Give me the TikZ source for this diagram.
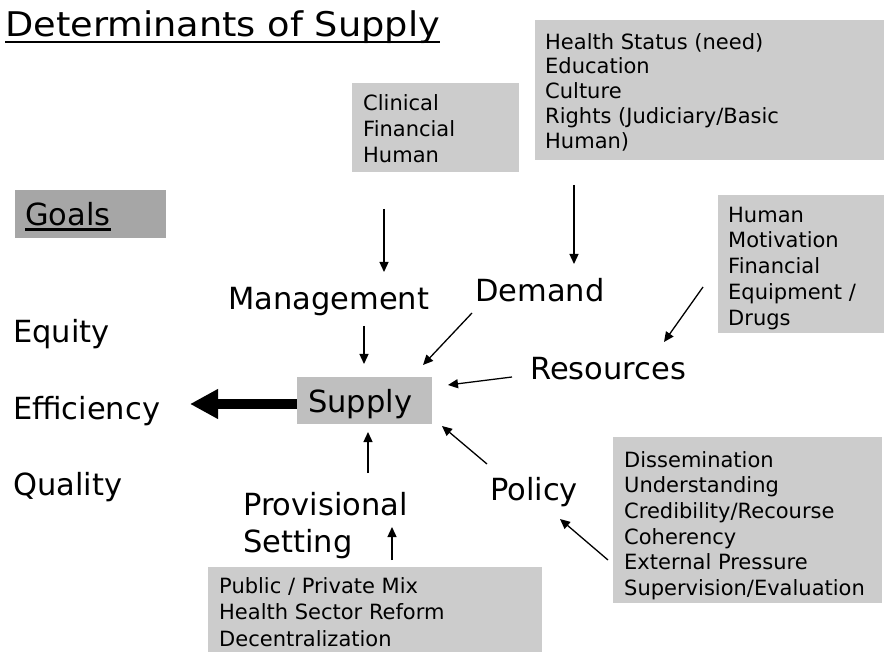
\documentclass[tikz,border=0pt]{standalone}
\usepackage{fontspec}
\setmainfont{DejaVu Sans}
\usetikzlibrary{arrows.meta}
\definecolor{boxgray}{HTML}{CCCCCC}
\definecolor{goalgray}{HTML}{A6A6A6}
\definecolor{supgray}{HTML}{BFBFBF}
\begin{document}
\begin{tikzpicture}[x=1pt,y=-1pt,
  big/.style={font=\fontsize{30.5}{37}\selectfont, inner sep=0pt, anchor=base west},
  small/.style={font=\fontsize{21}{25.6}\selectfont, inner sep=0pt, anchor=north west, align=left},
  graybox/.style={fill=boxgray, draw=none, anchor=north west, inner sep=0pt},
  arr/.style={line width=1.3pt, -{Triangle[length=10pt,width=9pt]}},
  bigarr/.style={line width=10pt, -{Triangle[length=28pt,width=28pt]}},
]
\useasboundingbox (0,0) rectangle (884,652);

% title
\node[inner sep=0pt, anchor=base west, font=\fontsize{34}{40}\selectfont] (title) at (5,37) {\scalebox{1.08}[1]{Determinants of Supply}};
\draw[line width=2.7pt] ([yshift=-5pt]title.base west) -- ([yshift=-5pt]title.base east);

% goals box
\node[graybox, fill=goalgray, minimum width=151pt, minimum height=48pt] (goalbox) at (15,190) {};
\node[big] (goals) at (25,226) {Goals};
\draw[line width=2.4pt] ([yshift=-3.5pt]goals.base west) -- ([yshift=-3.5pt]goals.base east);

% info boxes
\node[graybox, minimum width=167pt, minimum height=89pt] (clinbox) at (352,83) {};
\node[small, font=\fontsize{21}{26}\selectfont] (clintext) at (363,92) {\rule{0pt}{18pt}Clinical\\Financial\\Human};

\node[graybox, minimum width=349pt, minimum height=140pt] (healthbox) at (535,20) {};
\node[small, font=\fontsize{21}{24.8}\selectfont] (healthtext) at (545,31) {\rule{0pt}{18pt}Health Status (need)\\Education\\Culture\\Rights (Judiciary/Basic\\Human)};

\node[graybox, minimum width=166pt, minimum height=138pt] (resbox) at (718,195) {};
\node[small, font=\fontsize{21}{25.8}\selectfont] (restext) at (728,204) {\rule{0pt}{18pt}Human\\Motivation\\Financial\\Equipment /\\Drugs};

\node[graybox, minimum width=334pt, minimum height=90pt] (pubbox) at (208,567) {};
\node[small, font=\fontsize{21}{26.5}\selectfont] (pubtext) at (219,575) {\rule{0pt}{18pt}Public / Private Mix\\Health Sector Reform\\Decentralization};

\node[graybox, minimum width=269pt, minimum height=166pt] (polbox) at (613,437) {};
\node[small, font=\fontsize{21}{25.6}\selectfont] (poltext) at (624,449) {\rule{0pt}{18pt}Dissemination\\Understanding\\Credibility/Recourse\\Coherency\\External Pressure\\Supervision/Evaluation};

% supply
\node[graybox, fill=supgray, minimum width=135pt, minimum height=47pt] (supbox) at (297,377) {};
\node[big] (supply) at (308,412) {Supply};

% labels
\node[big] (management) at (228,310) {Management};
\node[big] (demand) at (475,302) {Demand};
\node[big] (resources) at (530,380) {Resources};
\node[big] (policy) at (490,500) {Policy};
\node[inner sep=0pt, anchor=north west, align=left, font=\fontsize{30.5}{37}\selectfont] (provisional) at (243,490) {\rule{0pt}{25pt}Provisional\\Setting};
\node[big] (equity) at (13,343) {Equity};
\node[big] (efficiency) at (13,419) {Efficiency};
\node[big] (quality) at (13,495) {Quality};

% arrow end points
\coordinate (c1) at (384,209); \coordinate (c2) at (384,272);
\coordinate (d1) at (574,185); \coordinate (d2) at (574,264);
\coordinate (h1) at (703,287); \coordinate (h2) at (664,342);
\coordinate (m1) at (364,326); \coordinate (m2) at (364,364);
\coordinate (e1) at (472,313); \coordinate (e2) at (423,365);
\coordinate (r1) at (512,377); \coordinate (r2) at (448,385);
\coordinate (p1) at (368,473); \coordinate (p2) at (368,432);
\coordinate (q1) at (487,464); \coordinate (q2) at (442,426);
\coordinate (s1) at (608,560); \coordinate (s2) at (560,519);
\coordinate (u1) at (392,560); \coordinate (u2) at (392,527);
\coordinate (bigtip) at (190,404);

\draw[arr] (c1) -- (c2);
\draw[arr] (d1) -- (d2);
\draw[arr] (h1) -- (h2);
\draw[arr] (m1) -- (m2);
\draw[arr] (e1) -- (e2);
\draw[arr] (r1) -- (r2);
\draw[arr] (p1) -- (p2);
\draw[arr] (q1) -- (q2);
\draw[arr] (s1) -- (s2);
\draw[arr] (u1) -- (u2);
\draw[bigarr] (supbox.west |- bigtip) -- (bigtip);
\end{tikzpicture}
\end{document}
